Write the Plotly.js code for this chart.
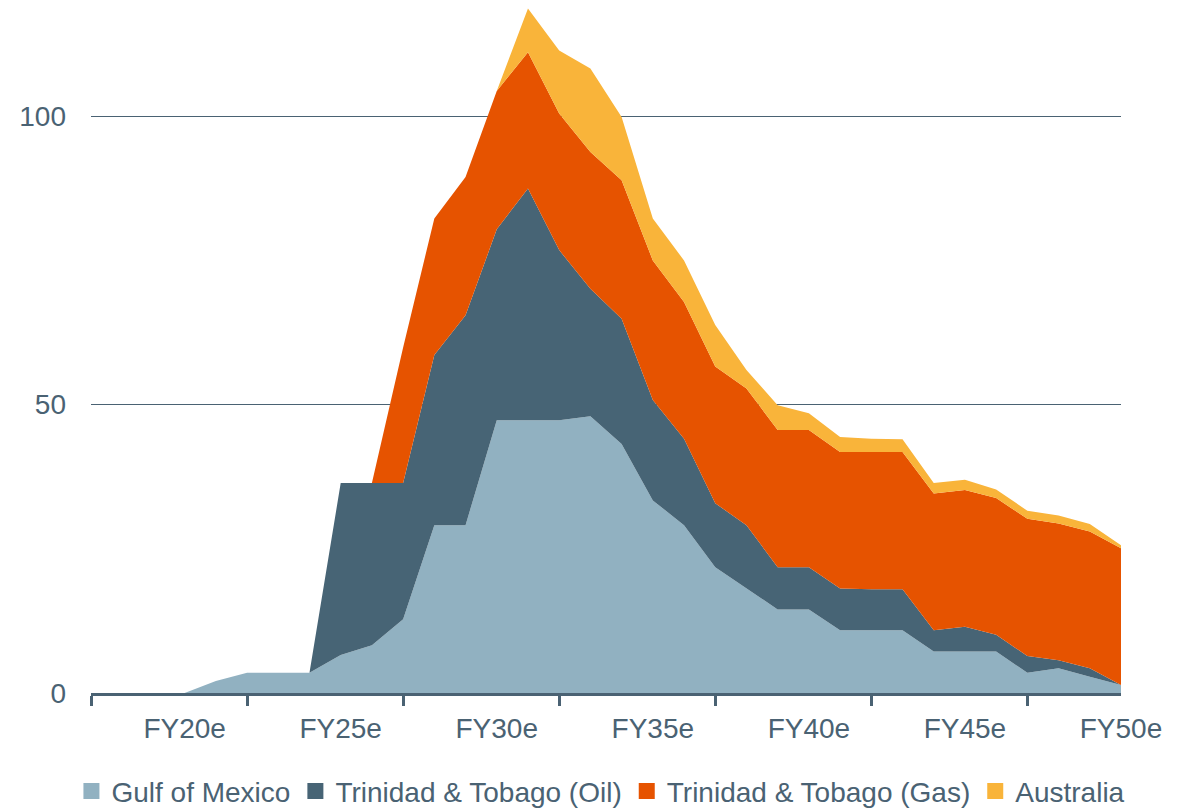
<!DOCTYPE html>
<html>
<head>
<meta charset="utf-8">
<script src="https://cdn.plot.ly/plotly-3.0.1.min.js"></script>
<style>
  html, body { margin: 0; padding: 0; background: #ffffff; }
  #chart { width: 1187px; height: 809px; }
</style>
</head>
<body>
<div id="chart"></div>
<script>
// Fiscal years FY17 .. FY50
const fiscalYears = [17,18,19,20,21,22,23,24,25,26,27,28,29,30,31,32,33,34,35,36,37,38,39,40,41,42,43,44,45,46,47,48,49,50];

const gulfOfMexico = [0,0,0,0,2.1,3.5,3.5,3.5,6.6,8.3,12.8,29.1,29.1,47.3,47.3,47.3,48.0,43.2,33.4,29.1,21.8,18.1,14.5,14.5,10.9,10.9,10.9,7.2,7.2,7.2,3.5,4.3,2.8,1.4];
const trinidadOil  = [0,0,0,0,0,0,0,0,29.8,28.1,23.6,29.5,36.4,33.1,40.2,29.5,22.1,21.7,17.4,15.0,11.1,11.0,7.3,7.3,7.2,7.1,7.1,3.7,4.3,2.9,2.9,1.4,1.5,0];
const trinidadGas  = [0,0,0,0,0,0,0,0,0,0,23.5,23.7,24.0,24.0,23.6,23.7,23.7,24.0,24.2,23.7,23.7,23.7,23.8,23.8,23.7,23.8,23.8,23.7,23.7,23.7,23.8,23.7,23.7,23.7];
const australia    = [0,0,0,0,0,0,0,0,0,0,0,0,0,0,7.6,10.9,14.5,11.0,7.3,7.2,7.2,3.2,4.3,2.9,2.6,2.3,2.2,1.8,1.8,1.5,1.4,1.4,1.3,0.5];

const seriesNames = ['Gulf of Mexico', 'Trinidad & Tobago (Oil)', 'Trinidad & Tobago (Gas)', 'Australia'];

const labelTickVals = [20,25,30,35,40,45,50];
const labelTickText = ['FY20e','FY25e','FY30e','FY35e','FY40e','FY45e','FY50e'];
const markTickVals  = [17,22,27,32,37,42,47];

const yTickVals = [0,50,100];
const yTickText = ['0','50','100'];

const colors = ['#91B1C1', '#476475', '#E65300', '#F9B43A'];
const slate = '#4A6273';

const seriesValues = [gulfOfMexico, trinidadOil, trinidadGas, australia];

// stacked areas
const areaTraces = seriesValues.map((vals, i) => ({
  type: 'scatter',
  mode: 'lines',
  x: fiscalYears,
  y: vals,
  name: seriesNames[i],
  stackgroup: 'one',
  fillcolor: colors[i],
  line: { width: 0, color: colors[i] },
  showlegend: false,
  legendgroup: 'g' + i,
  hoverinfo: 'x+y+name'
}));

// legend entries (square swatches), no data drawn
const legendTraces = seriesNames.map((nm, i) => ({
  type: 'scatter',
  mode: 'markers',
  x: [null],
  y: [null],
  name: nm,
  legendgroup: 'g' + i,
  marker: { symbol: 'square', size: 18, color: colors[i] },
  showlegend: true,
  hoverinfo: 'skip'
}));

const layout = {
  width: 1187,
  height: 809,
  margin: { l: 91, r: 66, t: 1, b: 116, autoexpand: false },
  paper_bgcolor: '#ffffff',
  plot_bgcolor: '#ffffff',
  font: { family: 'Liberation Sans, Arial, sans-serif', size: 28, color: slate },
  showlegend: true,
  legend: {
    orientation: 'h',
    x: -0.019,
    xanchor: 'left',
    y: -0.142,
    yanchor: 'middle',
    font: { size: 28, color: slate },
    itemwidth: 30,
    traceorder: 'normal',
    tracegroupgap: 0,
    bgcolor: 'rgba(0,0,0,0)'
  },
  xaxis: {
    range: [17, 50],
    tickmode: 'array',
    tickvals: labelTickVals,
    ticktext: labelTickText,
    ticks: '',
    ticklabelstandoff: 8,
    showline: true,
    linecolor: slate,
    linewidth: 3,
    showgrid: false,
    zeroline: false,
    fixedrange: true,
    minor: {
      tickmode: 'array',
      tickvals: markTickVals,
      ticks: 'outside',
      ticklen: 10,
      tickwidth: 3,
      tickcolor: slate,
      showgrid: false
    }
  },
  yaxis: {
    range: [0, 120],
    tickmode: 'array',
    tickvals: yTickVals,
    ticktext: yTickText,
    ticks: '',
    ticklabelstandoff: 24,
    showline: false,
    showgrid: true,
    gridcolor: slate,
    gridwidth: 1.5,
    zeroline: false,
    fixedrange: true
  }
};

Plotly.newPlot('chart', areaTraces.concat(legendTraces), layout, { displayModeBar: false, staticPlot: true });
</script>
</body>
</html>
